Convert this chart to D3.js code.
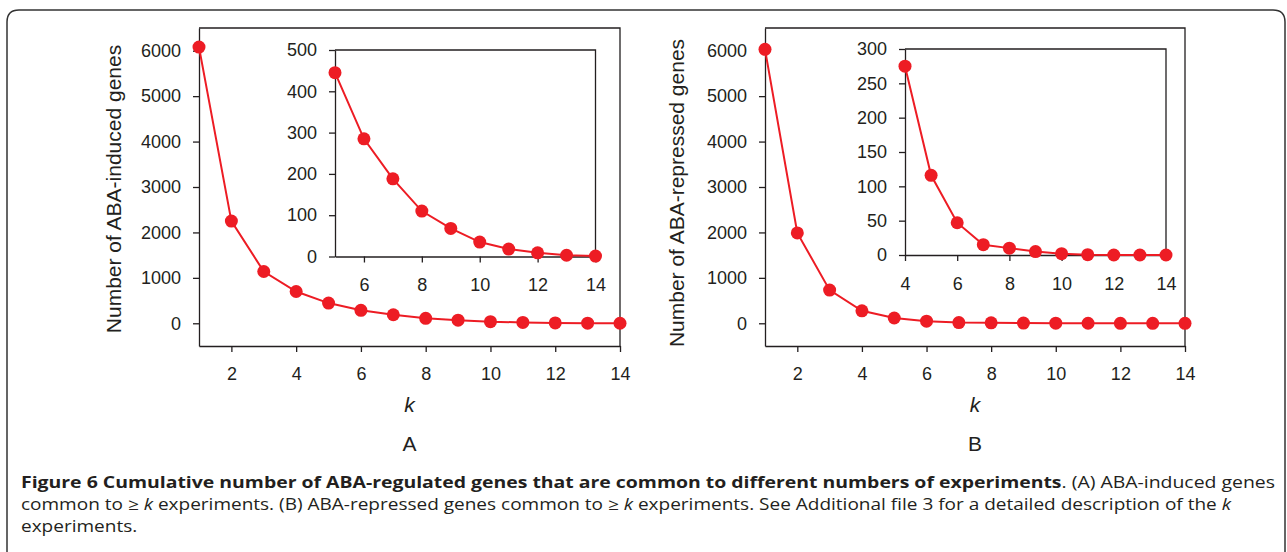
<!DOCTYPE html>
<html>
<head>
<meta charset="utf-8">
<script src="https://cdn.jsdelivr.net/npm/d3@7"></script>
<style>
  body { margin: 0; background: #fff; }
  svg { display: block; }
</style>
</head>
<body>
<svg id="fig" width="1287" height="552"></svg>
<script>
// k = number of experiments
var kAll = [1, 2, 3, 4, 5, 6, 7, 8, 9, 10, 11, 12, 13, 14];
var inducedAll = [6080, 2250, 1140, 700, 445, 285, 188, 110, 68, 35, 18, 9, 3, 1];
var repressedAll = [6030, 1990, 730, 275, 116, 47, 15, 10, 5, 2, 0.5, 0, 0, 0];

// insets zoom on the tail
var kInsetA = [5, 6, 7, 8, 9, 10, 11, 12, 13, 14];
var inducedInset = [445, 285, 188, 110, 68, 35, 18, 9, 3, 1];
var kInsetB = [4, 5, 6, 7, 8, 9, 10, 11, 12, 13, 14];
var repressedInset = [275, 116, 47, 15, 10, 5, 2, 0.5, 0, 0, 0];

// tick labels
var mainXTicks = [2, 4, 6, 8, 10, 12, 14];
var mainYTicks = [0, 1000, 2000, 3000, 4000, 5000, 6000];
var insetAXTicks = [6, 8, 10, 12, 14];
var insetAYTicks = [0, 100, 200, 300, 400, 500];
var insetBXTicks = [4, 6, 8, 10, 12, 14];
var insetBYTicks = [0, 50, 100, 150, 200, 250, 300];

var panelLetters = ["A", "B"];
var yTitles = ["Number of ABA-induced genes", "Number of ABA-repressed genes"];

var ink = "#231f20";
var red = "#ed1c24";
var axisFont = "Liberation Sans, Arial, Helvetica, sans-serif";

var svg = d3.select("#fig");

// outer frame with rounded top corners
svg.append("path")
    .attr("d", "M7,552 L7,22 Q7,10 19,10 L1273,10 Q1285,10 1285,22 L1285,552")
    .attr("fill", "none")
    .attr("stroke", "#333")
    .attr("stroke-width", 1.5);

function drawBox(parent, opt) {
    var g = parent.append("g");
    var x = d3.scaleLinear().domain(opt.xDomain).range([opt.left, opt.right]);
    var y = d3.scaleLinear().domain(opt.yDomain).range([opt.bottom, opt.top]);

    // top and right edges of the box
    g.append("path")
        .attr("d", "M" + opt.left + "," + opt.top + " L" + opt.right + "," + opt.top + " L" + opt.right + "," + opt.bottom)
        .attr("fill", "none")
        .attr("stroke", ink)
        .attr("stroke-width", 1.3);

    var ya = g.append("g")
        .attr("transform", "translate(" + opt.left + ",0)")
        .call(d3.axisLeft(y).tickValues(opt.yTicks).tickSize(6).tickSizeOuter(0).tickPadding(12).tickFormat(d3.format("d")));
    var xa = g.append("g")
        .attr("transform", "translate(0," + opt.bottom + ")")
        .call(d3.axisBottom(x).tickValues(opt.xTicks).tickSize(6).tickSizeOuter(0).tickPadding(opt.xPad).tickFormat(d3.format("d")));

    [ya, xa].forEach(function(a) {
        a.selectAll("path, line").attr("stroke", ink).attr("stroke-width", 1.3);
        a.selectAll("text").attr("fill", ink).style("font-family", axisFont).style("font-size", "18px");
    });

    var line = d3.line()
        .x(function(d) { return x(d[0]); })
        .y(function(d) { return y(d[1]); });
    var pts = opt.k.map(function(k, i) { return [k, opt.values[i]]; });

    g.append("path")
        .datum(pts)
        .attr("d", line)
        .attr("fill", "none")
        .attr("stroke", red)
        .attr("stroke-width", 2);

    g.selectAll("circle").data(pts).enter().append("circle")
        .attr("cx", function(d) { return x(d[0]); })
        .attr("cy", function(d) { return y(d[1]); })
        .attr("r", 6.5)
        .attr("fill", red);
}

var panels = [
    { dx: 0, mainVals: inducedAll, insK: kInsetA, insVals: inducedInset,
      insX: [5, 14], insXT: insetAXTicks, insY: [0, 500], insYT: insetAYTicks,
      mLeft: 199, mRight: 620, iLeft: 335, iRight: 595.5, iTop: 50, iBottom: 256.5,
      titleX: 121, titleY: 189 },
    { dx: 1, mainVals: repressedAll, insK: kInsetB, insVals: repressedInset,
      insX: [4, 14], insXT: insetBXTicks, insY: [0, 300], insYT: insetBYTicks,
      mLeft: 765, mRight: 1185, iLeft: 905, iRight: 1166, iTop: 49, iBottom: 255,
      titleX: 684, titleY: 193 }
];

panels.forEach(function(p) {
    var g = svg.append("g");
    drawBox(g, {
        left: p.mLeft, right: p.mRight, top: 28, bottom: 346,
        xDomain: [1, 14], yDomain: [-500, 6500],
        xTicks: mainXTicks, yTicks: mainYTicks, xPad: 15,
        k: kAll, values: p.mainVals
    });
    drawBox(g, {
        left: p.iLeft, right: p.iRight, top: p.iTop, bottom: p.iBottom,
        xDomain: p.insX, yDomain: p.insY,
        xTicks: p.insXT, yTicks: p.insYT, xPad: 16,
        k: p.insK, values: p.insVals
    });

    g.append("text")
        .attr("transform", "translate(" + p.titleX + "," + p.titleY + ") rotate(-90)")
        .attr("text-anchor", "middle")
        .attr("fill", ink)
        .style("font-family", axisFont)
        .style("font-size", "21px")
        .text(yTitles[p.dx]);

    var cx = (p.mLeft + p.mRight) / 2;
    g.append("text")
        .attr("x", cx).attr("y", 412)
        .attr("text-anchor", "middle")
        .attr("fill", ink)
        .style("font-family", axisFont)
        .style("font-size", "21px")
        .style("font-style", "italic")
        .text("k");
    g.append("text")
        .attr("x", cx).attr("y", 451)
        .attr("text-anchor", "middle")
        .attr("fill", ink)
        .style("font-family", axisFont)
        .style("font-size", "21px")
        .text(panelLetters[p.dx]);
});

// caption
var capFont = "'Open Sans', 'Noto Sans', sans-serif";
var cap1 = svg.append("text")
    .attr("x", 21).attr("y", 488)
    .attr("fill", ink)
    .style("font-family", capFont)
    .style("font-size", "16px")
    .attr("textLength", 1254)
    .attr("lengthAdjust", "spacingAndGlyphs");
cap1.append("tspan").style("font-weight", "bold")
    .text("Figure 6 Cumulative number of ABA-regulated genes that are common to different numbers of experiments");
cap1.append("tspan").text(". (A) ABA-induced genes");

var cap2 = svg.append("text")
    .attr("x", 21).attr("y", 510)
    .attr("fill", ink)
    .style("font-family", capFont)
    .style("font-size", "16px");
cap2.append("tspan").text("common to \u2265 ");
cap2.append("tspan").style("font-style", "italic").text("k");
cap2.append("tspan").text(" experiments. (B) ABA-repressed genes common to \u2265 ");
cap2.append("tspan").style("font-style", "italic").text("k");
cap2.append("tspan").text(" experiments. See Additional file 3 for a detailed description of the ");
cap2.append("tspan").style("font-style", "italic").text("k");

// squeeze the regular lines by the same ratio so they read like the narrower print face
var squeeze = 1210 / cap2.node().getComputedTextLength();
cap2.attr("textLength", 1210).attr("lengthAdjust", "spacingAndGlyphs");

var cap3 = svg.append("text")
    .attr("x", 21).attr("y", 532)
    .attr("fill", ink)
    .style("font-family", capFont)
    .style("font-size", "16px")
    .text("experiments.");
cap3.attr("textLength", cap3.node().getComputedTextLength() * squeeze)
    .attr("lengthAdjust", "spacingAndGlyphs");
</script>
</body>
</html>
